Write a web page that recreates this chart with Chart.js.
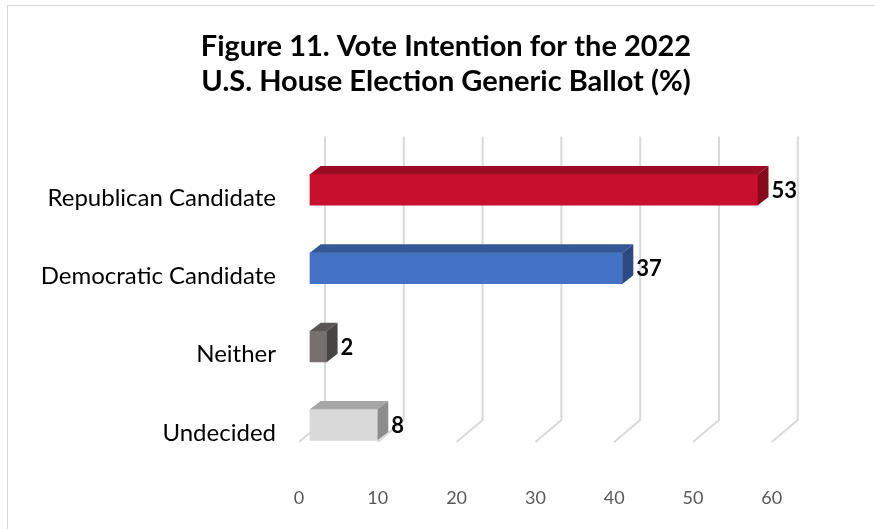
<!DOCTYPE html>
<html>
<head>
    <title>Vote Intention 2022</title>
    <script src="https://cdn.jsdelivr.net/npm/chart.js"></script>
    <style>
        html, body { margin: 0; padding: 0; background: #fff; }
        #wrap { position: relative; width: 875px; height: 529px; }
        #frame { position: absolute; left: 7px; top: 5px; width: 880px; height: 540px; border: 1px solid #d9d9d9; box-sizing: border-box; }
    </style>
</head>
<body>
    <div id="wrap">
        <div id="frame"></div>
        <canvas id="myChart" width="875" height="529"></canvas>
    </div>

    <script>
        // categories and values
        const categories = ['Republican Candidate', 'Democratic Candidate', 'Neither', 'Undecided'];
        const values = [53, 37, 2, 8];
        const tickValues = [0, 10, 20, 30, 40, 50, 60];

        // front / top / side colours for each bar
        const frontColors = ['#c8102e', '#4472c4', '#767171', '#d9d9d9'];
        const topColors = ['#9a0d23', '#345895', '#5b5656', '#a6a6a6'];
        const sideColors = ['#850a1e', '#2d4a80', '#484444', '#8c8c8c'];

        const FONT = 'Lato, "Open Sans", sans-serif';

        // 3D-ish back wall and floor for the value grid
        const wallGrid = {
            id: 'wallGrid',
            beforeDatasetsDraw(chart) {
                const ctx = chart.ctx;
                const x = chart.scales.x;
                const area = chart.chartArea;
                const floorFront = area.bottom - 22;
                const floorBack = floorFront - 22;
                ctx.save();
                ctx.strokeStyle = '#d9d9d9';
                ctx.lineWidth = 2;
                tickValues.forEach(v => {
                    const px = x.getPixelForValue(v);
                    ctx.beginPath();
                    ctx.moveTo(px, floorFront);
                    ctx.lineTo(px + 26, floorBack);
                    ctx.lineTo(px + 26, area.top - 14);
                    ctx.stroke();
                });
                ctx.restore();
            }
        };

        // top and side faces of each bar, plus the value labels
        const barFaces = {
            id: 'barFaces',
            afterDatasetsDraw(chart) {
                const ctx = chart.ctx;
                const meta = chart.getDatasetMeta(0);
                const dx = 10.7, dy = 8.3;
                ctx.save();
                meta.data.forEach((bar, i) => {
                    const x0 = bar.base, x1 = bar.x;
                    const top = bar.y - bar.height / 2;
                    const bottom = bar.y + bar.height / 2;
                    ctx.fillStyle = topColors[i];
                    ctx.beginPath();
                    ctx.moveTo(x0, top);
                    ctx.lineTo(x0 + dx, top - dy);
                    ctx.lineTo(x1 + dx, top - dy);
                    ctx.lineTo(x1, top);
                    ctx.closePath();
                    ctx.fill();
                    ctx.fillStyle = sideColors[i];
                    ctx.beginPath();
                    ctx.moveTo(x1, top);
                    ctx.lineTo(x1 + dx, top - dy);
                    ctx.lineTo(x1 + dx, bottom - dy);
                    ctx.lineTo(x1, bottom);
                    ctx.closePath();
                    ctx.fill();

                    ctx.fillStyle = '#000';
                    ctx.font = 'bold 22px ' + FONT;
                    ctx.textAlign = 'left';
                    ctx.textBaseline = 'middle';
                    ctx.fillText(String(values[i]), x1 + dx + 3, bar.y + 1);
                });
                ctx.restore();
            }
        };

        const ctx = document.getElementById('myChart').getContext('2d');
        new Chart(ctx, {
            type: 'bar',
            data: {
                labels: categories,
                datasets: [{
                    data: values,
                    xAxisID: 'xb',
                    backgroundColor: frontColors,
                    borderWidth: 0,
                    barThickness: 31
                }]
            },
            options: {
                indexAxis: 'y',
                responsive: false,
                animation: false,
                devicePixelRatio: 1,
                layout: { padding: { left: 17, right: 0, top: 0, bottom: 0 } },
                plugins: {
                    legend: { display: false },
                    tooltip: { enabled: false },
                    title: {
                        display: true,
                        text: ['Figure 11. Vote Intention for the 2022', 'U.S. House Election Generic Ballot (%)'],
                        color: '#000',
                        font: { family: FONT, size: 29, weight: 'bold', lineHeight: 1.2 },
                        padding: { top: 29, bottom: 52 }
                    }
                },
                scales: {
                    // front edge of the floor; the grid runs 0..60, the rest is margin
                    x: {
                        type: 'linear',
                        position: 'bottom',
                        min: 0,
                        max: 73.1,
                        grid: { display: false, drawTicks: false },
                        border: { display: false },
                        afterBuildTicks(scale) {
                            scale.ticks = tickValues.map(v => ({ value: v }));
                        },
                        afterFit(scale) { scale.height = 65; },
                        ticks: {
                            color: '#595959',
                            font: { family: FONT, size: 18 },
                            padding: 23
                        }
                    },
                    // the bars sit deeper in the box, so they use their own axis
                    xb: {
                        type: 'linear',
                        display: false,
                        min: -1.3,
                        max: 66.87
                    },
                    y: {
                        grid: { display: false, drawTicks: false },
                        border: { display: false },
                        afterFit(scale) { scale.width = 282; },
                        ticks: {
                            color: '#000',
                            font: { family: FONT, size: 24 },
                            padding: 23,
                            labelOffset: 8
                        }
                    }
                }
            },
            plugins: [wallGrid, barFaces]
        });
    </script>
</body>
</html>
